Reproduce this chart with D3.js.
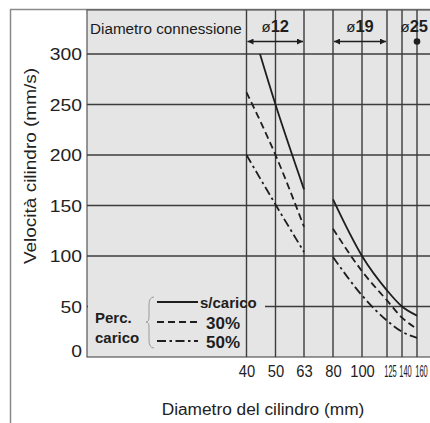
<!DOCTYPE html>
<html><head><meta charset="utf-8">
<script src="https://cdn.jsdelivr.net/npm/d3@7"></script>
<style>html,body{margin:0;padding:0;background:#fff;}svg{display:block;font-family:"Liberation Sans",Arial,Helvetica,sans-serif;}</style>
</head><body>
<script>
// ---- data ----
const diameters = [40, 50, 63, 80, 100, 125, 140, 160];
const yTicks = [0, 50, 100, 150, 200, 250, 300];
const group1 = [40, 50, 63];
const group2 = [80, 100, 125, 140, 160];
const s_carico_g1 = [345, 250, 166];
const p30_g1 = [262, 200, 129];
const p50_g1 = [200, 151, 104];
const s_carico_g2 = [156, 100, 66, 50, 41];
const p30_g2 = [127, 85, 56, 39, 28];
const p50_g2 = [99, 61, 36, 25, 19];
const seriesNames = ["s/carico", "30%", "50%"];
const connections = [
  {label: "12", from: 40, to: 63},
  {label: "19", from: 80, to: 125},
  {label: "25", from: 160, to: 160}
];
const texts = {
  yTitle: "Velocità cilindro (mm/s)",
  xTitle: "Diametro del cilindro (mm)",
  header: "Diametro connessione",
  legendTitle: ["Perc.", "carico"]
};

// ---- layout ----
const W = 430, H = 423;
const svg = d3.select("body").append("svg").attr("width", W).attr("height", H);
const plotLeft = 87, plotTop = 10;
const y = d3.scaleLinear().domain([0, 300]).range([357, 54]);
const x = d3.scaleLinear().domain(diameters).range([246.5, 275.5, 304, 333, 362, 387, 402, 417]);
const gridColor = "#3c3c3c", bg = "#e5e5e5", ink = "#1e1e1e";

function stretch(sel, k) {
  sel.each(function () {
    const w = this.getComputedTextLength();
    d3.select(this).attr("textLength", w * k).attr("lengthAdjust", "spacingAndGlyphs");
  });
}

// outer frame
svg.append("rect").attr("x", 10.5).attr("y", 9.5).attr("width", W).attr("height", H)
  .attr("fill", "#fff").attr("stroke", "#8a8a8a").attr("stroke-width", 1.5);
// plot background
svg.append("rect").attr("x", plotLeft).attr("y", plotTop).attr("width", W - plotLeft + 5).attr("height", y(0) - plotTop)
  .attr("fill", bg).attr("stroke", "#555").attr("stroke-width", 1.2);

// horizontal gridlines
svg.append("g").selectAll("line").data(yTicks.filter(d => d > 0)).join("line")
  .attr("x1", plotLeft).attr("x2", W).attr("y1", d => y(d)).attr("y2", d => y(d))
  .attr("stroke", gridColor).attr("stroke-width", 1.3);

// legend background (hides gridline)
svg.append("rect").attr("x", plotLeft + 1).attr("y", 292).attr("width", 177).attr("height", y(0) - 293)
  .attr("fill", bg);

// vertical gridlines
svg.append("g").selectAll("line").data(diameters).join("line")
  .attr("x1", d => x(d)).attr("x2", d => x(d)).attr("y1", plotTop).attr("y2", y(0))
  .attr("stroke", gridColor).attr("stroke-width", 1.4);

// y axis labels
const yAxis = svg.append("g").attr("transform", `translate(${plotLeft},0)`)
  .call(d3.axisLeft(y).tickValues(yTicks).tickSize(0).tickPadding(5));
yAxis.select(".domain").remove();
yAxis.selectAll("text").attr("font-size", 16.5).attr("fill", "#222")
  .attr("font-family", "'Liberation Sans',Arial,sans-serif")
  .attr("dy", d => d === 0 ? "-0.05em" : "0.34em");
stretch(yAxis.selectAll("text"), 1.17);

// x axis labels
const xAxis = svg.append("g").attr("transform", `translate(0,${y(0)})`)
  .call(d3.axisBottom(x).tickValues(diameters).tickFormat(d3.format("d")).tickSize(0).tickPadding(9));
xAxis.select(".domain").remove();
const narrowShift = {125: 3, 140: 3, 160: 4};
xAxis.selectAll("text").attr("font-size", 16).attr("fill", "#222")
  .attr("font-family", "'Liberation Sans',Arial,sans-serif")
  .attr("transform", d => d >= 125 ? `translate(${narrowShift[d]},0) scale(0.47,1)` : "scale(0.92,1)");

// titles
const yT = svg.append("text").attr("transform", "translate(36,166) rotate(-90)")
  .attr("text-anchor", "middle").attr("font-size", 16.5).attr("fill", "#222").text(texts.yTitle);
stretch(yT, 1.15);
const xT = svg.append("text").attr("x", 263).attr("y", 415)
  .attr("text-anchor", "middle").attr("font-size", 16).attr("fill", "#222").text(texts.xTitle);
stretch(xT, 1.08);

// header
const hT = svg.append("text").attr("x", 90).attr("y", 34).attr("font-size", 14).attr("fill", "#1a1a1a").text(texts.header);
stretch(hT, 1.09);

const defs = svg.append("defs");
defs.append("marker").attr("id", "arr").attr("viewBox", "0 0 10 10").attr("refX", 10).attr("refY", 5)
  .attr("markerWidth", 10).attr("markerHeight", 6).attr("markerUnits", "userSpaceOnUse")
  .attr("orient", "auto-start-reverse")
  .append("path").attr("d", "M0,0 L10,5 L0,10 Z").attr("fill", ink);

const arrowY = 41.5;
connections.forEach(c => {
  if (c.from !== c.to) {
    svg.append("line").attr("x1", x(c.from) + 1).attr("x2", x(c.to) - 1)
      .attr("y1", arrowY).attr("y2", arrowY).attr("stroke", ink).attr("stroke-width", 1.3)
      .attr("marker-start", "url(#arr)").attr("marker-end", "url(#arr)");
    const t = svg.append("text").attr("x", (x(c.from) + x(c.to)) / 2).attr("y", 32)
      .attr("text-anchor", "middle").attr("fill", ink);
    t.append("tspan").attr("font-size", 15).text("ø");
    t.append("tspan").attr("font-size", 16.5).attr("font-weight", "bold").text(c.label);
  } else {
    svg.append("circle").attr("cx", x(c.from)).attr("cy", arrowY).attr("r", 3.3).attr("fill", ink);
    const t = svg.append("text").attr("x", x(c.from) + 11).attr("y", 32)
      .attr("text-anchor", "end").attr("fill", ink);
    t.append("tspan").attr("font-size", 15).text("ø");
    t.append("tspan").attr("font-size", 16.5).attr("font-weight", "bold").text(c.label);
  }
});

// curves
defs.append("clipPath").attr("id", "plotclip").append("rect")
  .attr("x", plotLeft).attr("y", y(300)).attr("width", W - plotLeft).attr("height", y(0) - y(300));
const styles = [
  {dash: null},
  {dash: "7,4"},
  {dash: "9,3.5,2.5,3.5"}
];
const line = d3.line().x(d => x(d[0])).y(d => y(d[1])).curve(d3.curveMonotoneX);
const curveG = svg.append("g").attr("clip-path", "url(#plotclip)");
const groups = [
  {xs: group1, series: [s_carico_g1, p30_g1, p50_g1]},
  {xs: group2, series: [s_carico_g2, p30_g2, p50_g2]}
];
groups.forEach(g => {
  g.series.forEach((vals, i) => {
    curveG.append("path").datum(g.xs.map((d, j) => [d, vals[j]]))
      .attr("d", line).attr("fill", "none").attr("stroke", ink).attr("stroke-width", 1.8)
      .attr("stroke-dasharray", styles[i].dash);
  });
});

// legend
const legYs = [302, 322, 341];
const lg = svg.append("g");
seriesNames.forEach((name, i) => {
  lg.append("line").attr("x1", 157).attr("x2", 198).attr("y1", legYs[i]).attr("y2", legYs[i])
    .attr("stroke", ink).attr("stroke-width", 1.8).attr("stroke-dasharray", styles[i].dash);
  lg.append("text").attr("x", i === 0 ? 200 : 206).attr("y", legYs[i] + (i === 0 ? 5.5 : 6.5))
    .attr("font-size", i === 0 ? 15 : 17).attr("font-weight", "bold").attr("fill", ink).text(name);
});
texts.legendTitle.forEach((t, i) => {
  lg.append("text").attr("x", 95).attr("y", 323 + i * 20).attr("font-size", 15)
    .attr("font-weight", "bold").attr("fill", ink).text(t);
});
lg.append("path").attr("d", "M154,297 Q149,297 149,305 L149,317 Q149,322 146,322 Q149,322 149,327 L149,340 Q149,348 154,348")
  .attr("fill", "none").attr("stroke", "#9a9a9a").attr("stroke-width", 1);
</script>
</body></html>
